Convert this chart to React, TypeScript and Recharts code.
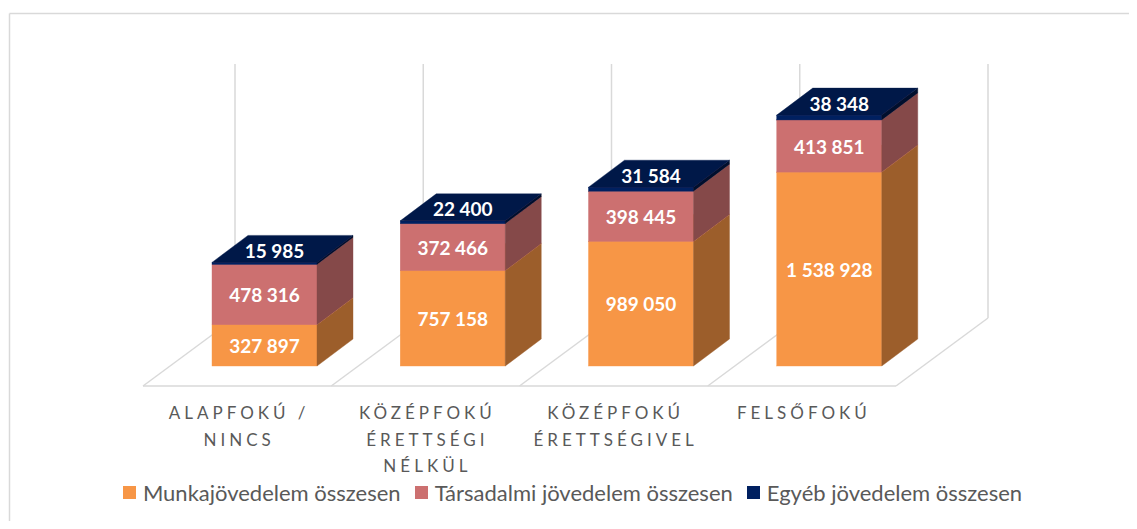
import React from 'react';
import { BarChart, Bar, XAxis, YAxis, LabelList, Legend } from 'recharts';

// ---------- data ----------
const categories = ['ALAPFOKÚ / NINCS', 'KÖZÉPFOKÚ ÉRETTSÉGI NÉLKÜL', 'KÖZÉPFOKÚ ÉRETTSÉGIVEL', 'FELSŐFOKÚ'];
const munka = [327897, 757158, 989050, 1538928];
const tarsadalmi = [478316, 372466, 398445, 413851];
const egyeb = [15985, 22400, 31584, 38348];
const seriesNames = ['Munkajövedelem összesen', 'Társadalmi jövedelem összesen', 'Egyéb jövedelem összesen'];
const yDomain: [number, number] = [0, 2000000];

const data = categories.map((c, i) => ({
  category: c,
  munka: munka[i],
  tarsadalmi: tarsadalmi[i],
  egyeb: egyeb[i],
}));

// ---------- layout / style ----------
const W = 1129;
const H = 513;
const XAXIS_H = 30;
const MARGIN = { top: 106, right: 214, bottom: 155 - XAXIS_H, left: 162 };
const PLOT = {
  left: MARGIN.left,
  top: MARGIN.top,
  width: W - MARGIN.left - MARGIN.right,
  height: H - MARGIN.top - MARGIN.bottom - XAXIS_H,
};
const PLOT_BOTTOM = PLOT.top + PLOT.height;
const BAND = PLOT.width / categories.length;
const DEPTH = { dx: 36, dy: -27 };
const FLOOR_FRONT = { dx: -27, dy: 20 };
const FLOOR_BACK = { dx: 65, dy: -48 };
const GRID = '#D9D9D9';
const TEXT = '#595959';
const FONT = 'Lato, "Open Sans", sans-serif';

const COLORS = {
  munka: { front: '#F79646', side: '#9C5E2B', top: '#F79646' },
  tarsadalmi: { front: '#CC7070', side: '#854949', top: '#CC7070' },
  egyeb: { front: '#002060', side: '#000F2D', top: '#001848' },
};

const fmt = (v: number) => String(v).replace(/\B(?=(\d{3})+(?!\d))/g, ' ');

const makeShape = (c: { front: string; side: string; top: string }) => (props: any) => {
  const { x, y, width, height } = props;
  if (x == null || y == null || !width || height == null) return <g />;
  const { dx, dy } = DEPTH;
  const w = width;
  const h = height;
  return (
    <g>
      <rect x={x} y={y} width={w} height={h} fill={c.front} stroke={c.front} strokeWidth={0.4} />
      <polygon
        points={`${x + w},${y} ${x + w + dx},${y + dy} ${x + w + dx},${y + h + dy} ${x + w},${y + h}`}
        fill={c.side}
        stroke={c.side}
        strokeWidth={0.4}
      />
      <polygon
        points={`${x},${y} ${x + dx},${y + dy} ${x + w + dx},${y + dy} ${x + w},${y}`}
        fill={c.top}
        stroke={c.top}
        strokeWidth={0.4}
      />
    </g>
  );
};

const innerLabel = (props: any) => {
  const { x, y, width, height, value } = props;
  return (
    <text
      x={Number(x) + Number(width) / 2}
      y={Number(y) + Number(height) / 2}
      textAnchor="middle"
      dominantBaseline="central"
      fill="#FFFFFF"
      fontFamily={FONT}
      fontWeight={700}
      fontSize={19}
    >
      {fmt(value)}
    </text>
  );
};

const topLabel = (props: any) => {
  const { x, y, width, value } = props;
  return (
    <text
      x={Number(x) + Number(width) / 2 + 10}
      y={Number(y) - 12}
      textAnchor="middle"
      dominantBaseline="central"
      fill="#FFFFFF"
      fontFamily={FONT}
      fontWeight={700}
      fontSize={19}
    >
      {fmt(value)}
    </text>
  );
};

const wrap = (s: string, max: number) => {
  const words = s.split(' ');
  const lines: string[] = [];
  let cur = '';
  words.forEach((w) => {
    const next = cur ? cur + ' ' + w : w;
    if (next.length > max && cur) {
      lines.push(cur);
      cur = w;
    } else {
      cur = next;
    }
  });
  if (cur) lines.push(cur);
  return lines;
};

const CategoryTick = (props: any) => {
  const { x, y, payload } = props;
  const lines = wrap(String(payload.value), 12);
  const cx = Number(x) + FLOOR_FRONT.dx + 2;
  return (
    <text
      x={cx}
      y={Number(y)}
      textAnchor="middle"
      fill={TEXT}
      fontFamily={FONT}
      fontSize={17}
      style={{ letterSpacing: 4 }}
    >
      {lines.map((l, i) => (
        <tspan key={i} x={cx} dy={i === 0 ? 53 : 26.5}>
          {l}
        </tspan>
      ))}
    </text>
  );
};

const renderLegend = (props: any) => {
  const payload = [...(props.payload || [])].sort(
    (a: any, b: any) => seriesNames.indexOf(a.value) - seriesNames.indexOf(b.value)
  );
  return (
    <div
      style={{
        display: 'flex',
        justifyContent: 'center',
        alignItems: 'center',
        fontFamily: FONT,
        fontSize: 22,
        color: TEXT,
        whiteSpace: 'nowrap',
        height: 26,
      }}
    >
      {payload.map((p: any, i: number) => (
        <div
          key={i}
          style={{ display: 'flex', alignItems: 'center', marginRight: i < payload.length - 1 ? 14 : 0 }}
        >
          <span style={{ width: 13, height: 13, background: p.color, marginRight: 7, display: 'inline-block' }} />
          <span>{p.value}</span>
        </div>
      ))}
    </div>
  );
};

const Background = () => {
  const lines: React.ReactNode[] = [];
  const fl = { x: PLOT.left + FLOOR_FRONT.dx, y: PLOT_BOTTOM + FLOOR_FRONT.dy };
  const bl = { x: PLOT.left + FLOOR_BACK.dx, y: PLOT_BOTTOM + FLOOR_BACK.dy };
  const wallTop = PLOT.top + FLOOR_BACK.dy - 2;
  lines.push(<line key="front" x1={fl.x} y1={fl.y} x2={fl.x + PLOT.width} y2={fl.y} />);
  for (let k = 0; k <= categories.length; k++) {
    lines.push(
      <line key={'d' + k} x1={fl.x + k * BAND} y1={fl.y} x2={bl.x + k * BAND} y2={bl.y} />
    );
    lines.push(
      <line key={'v' + k} x1={bl.x + k * BAND} y1={bl.y} x2={bl.x + k * BAND} y2={wallTop} />
    );
  }
  return (
    <svg width={W} height={H + 8} style={{ position: 'absolute', left: 0, top: 0 }}>
      <g stroke={GRID} strokeWidth={1.5} fill="none">
        {lines}
      </g>
      <line x1={1.5} y1={5.5} x2={W} y2={5.5} stroke={GRID} strokeWidth={1.5} />
      <line x1={1.5} y1={5.5} x2={1.5} y2={H + 8} stroke={GRID} strokeWidth={1.5} />
    </svg>
  );
};

export default function App() {
  return (
    <div style={{ position: 'relative', width: W, height: H, background: '#FFFFFF' }}>
      <style>{'html,body{overflow:hidden;}'}</style>
      <Background />
      <div style={{ position: 'absolute', left: 0, top: 0 }}>
        <BarChart width={W} height={H} data={data} margin={MARGIN} barSize={105}>
          <XAxis
            dataKey="category"
            axisLine={false}
            tickLine={false}
            tickSize={0}
            tickMargin={0}
            height={XAXIS_H}
            interval={0}
            tick={<CategoryTick />}
          />
          <YAxis hide domain={yDomain} />
          <Legend
            layout="horizontal"
            verticalAlign="middle"
            align="center"
            wrapperStyle={{ top: 471, left: 0, width: W }}
            content={renderLegend}
          />
          <Bar
            dataKey="munka"
            name={seriesNames[0]}
            stackId="a"
            fill={COLORS.munka.front}
            shape={makeShape(COLORS.munka)}
            isAnimationActive={false}
          >
            <LabelList dataKey="munka" content={innerLabel} />
          </Bar>
          <Bar
            dataKey="tarsadalmi"
            name={seriesNames[1]}
            stackId="a"
            fill={COLORS.tarsadalmi.front}
            shape={makeShape(COLORS.tarsadalmi)}
            isAnimationActive={false}
          >
            <LabelList dataKey="tarsadalmi" content={innerLabel} />
          </Bar>
          <Bar
            dataKey="egyeb"
            name={seriesNames[2]}
            stackId="a"
            fill={COLORS.egyeb.front}
            shape={makeShape(COLORS.egyeb)}
            isAnimationActive={false}
          >
            <LabelList dataKey="egyeb" content={topLabel} />
          </Bar>
        </BarChart>
      </div>
    </div>
  );
}
